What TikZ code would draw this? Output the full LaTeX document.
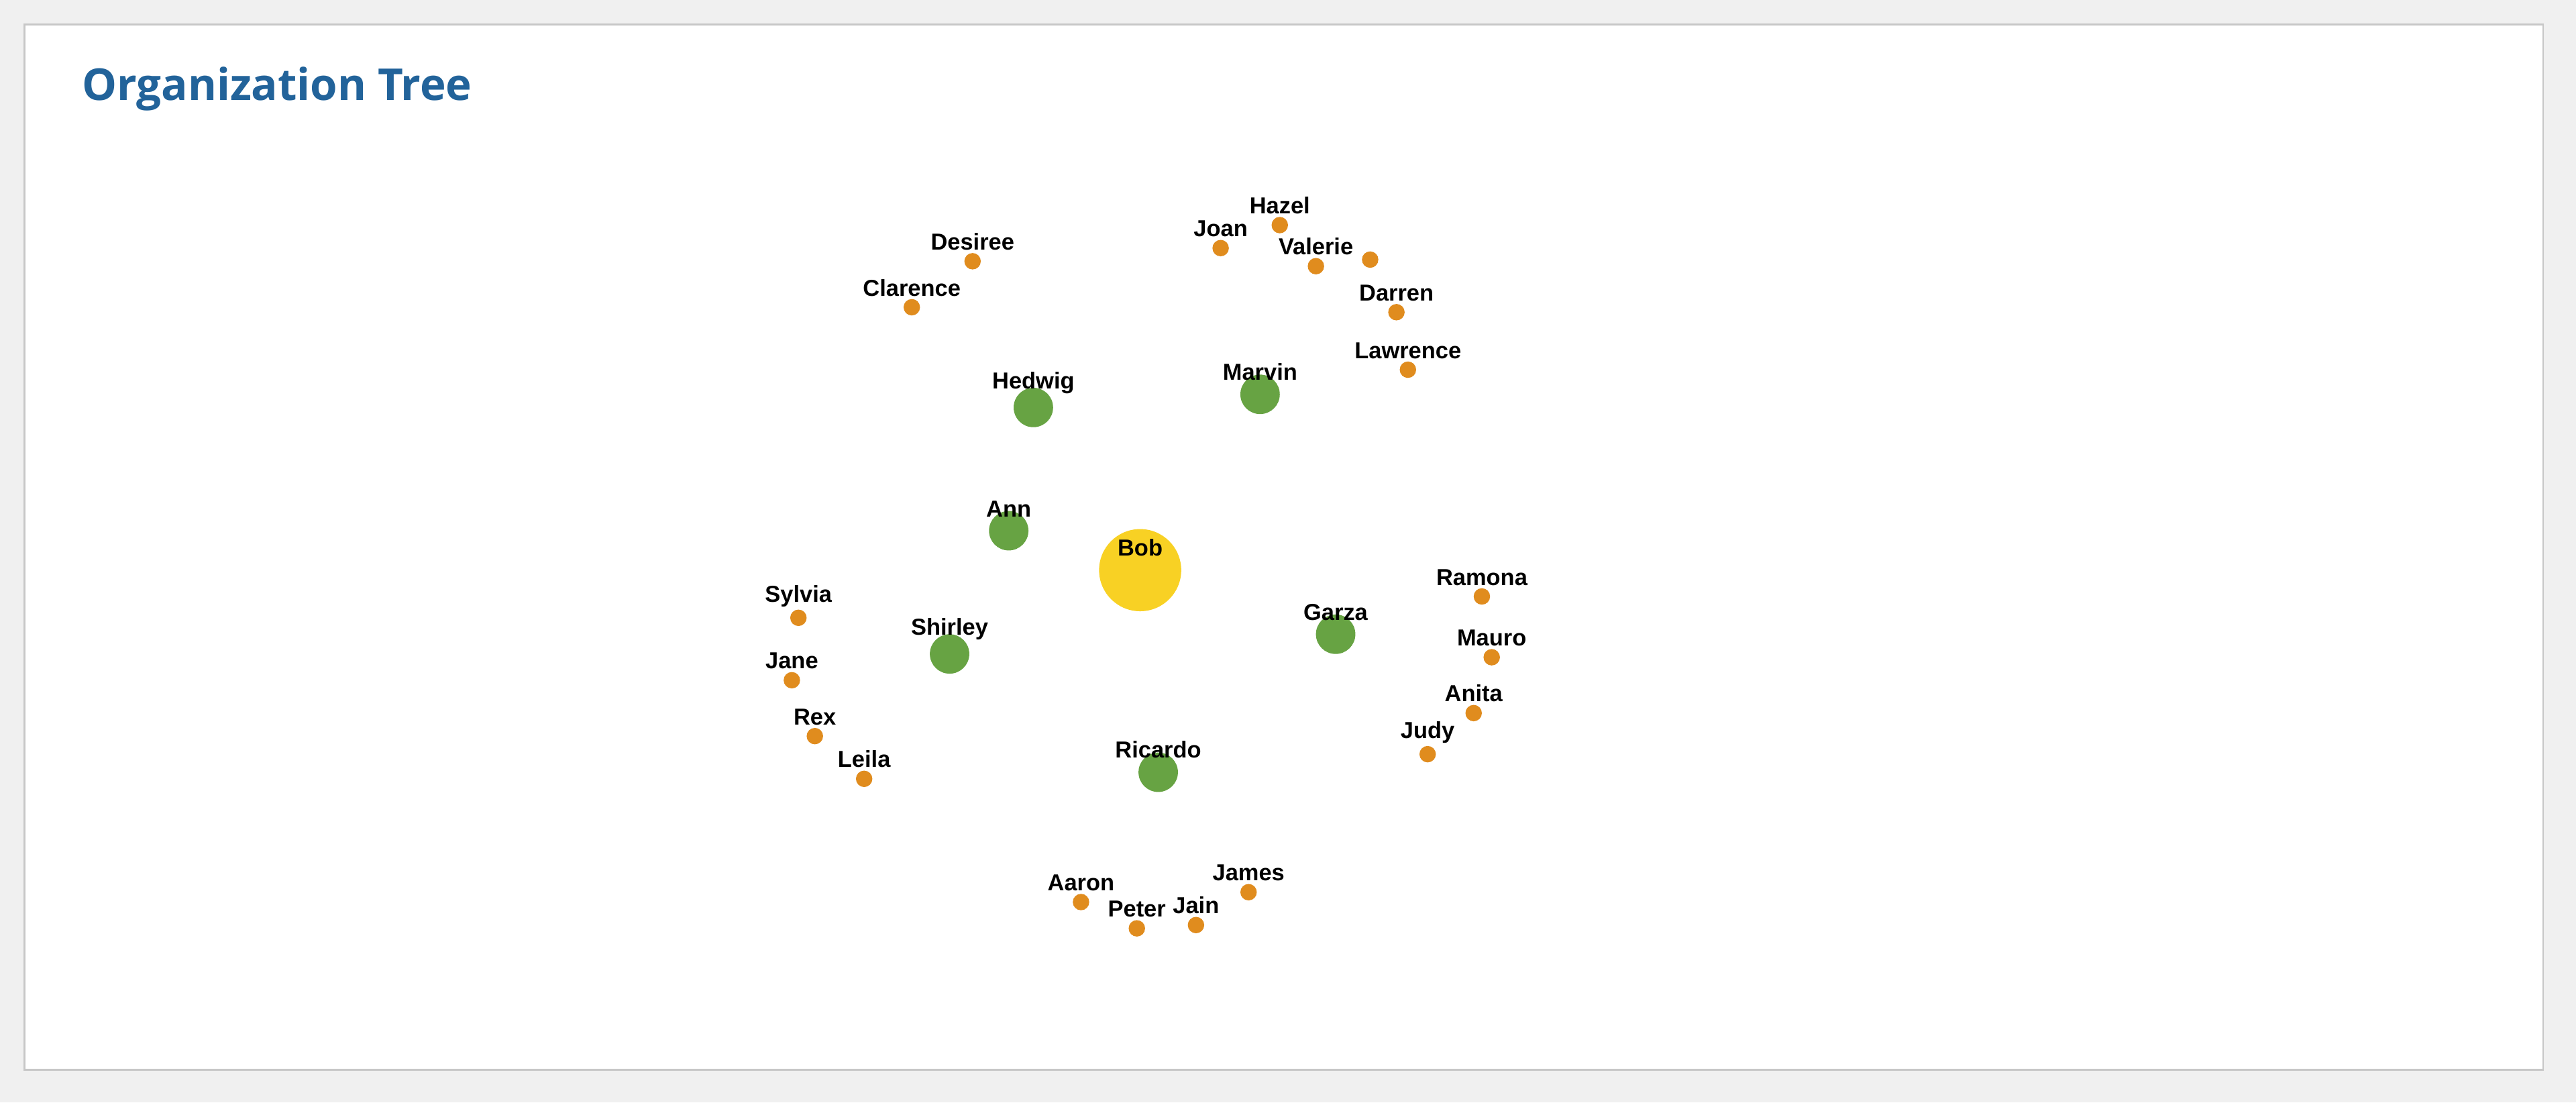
\documentclass[tikz,border=0pt]{standalone}
\usepackage{fontspec}
\setmainfont{Liberation Sans}
\newfontfamily\titlefont{Open Sans}
\usepackage{tikz}
\pgfdeclarelayer{bg}
\pgfsetlayers{bg,main}
\definecolor{bobyellow}{HTML}{F8D124}
\definecolor{mgrgreen}{HTML}{67A343}
\definecolor{leaforange}{HTML}{E08C1E}
\definecolor{titleblue}{HTML}{22639A}
\tikzset{
  root/.style={circle, fill=bobyellow, minimum size=50*0.025cm, inner sep=0pt,
    label={[label distance=-0.425cm, inner sep=0pt, font=\bfseries\fontsize{10}{12}\selectfont]above:#1}},
  mgr/.style={circle, fill=mgrgreen, minimum size=24*0.025cm, inner sep=0pt,
    label={[label distance=-0.1cm, inner sep=0pt, font=\bfseries\fontsize{10}{12}\selectfont]above:#1}},
  leaf/.style={circle, fill=leaforange, minimum size=10*0.025cm, inner sep=0pt,
    label={[label distance=0.03cm, inner sep=0pt, font=\bfseries\fontsize{10}{12}\selectfont]above:#1}},
  link/.style={draw=black!27, line width=0.6pt}
}
\begin{document}
\begin{tikzpicture}[x=0.025cm, y=-0.025cm]
        \fill[black!6] (0,0) rectangle (1568,671);
        \draw[black!22, fill=white, line width=0.8pt] (15,15) rectangle (1548,651);
        \useasboundingbox (0,0) rectangle (1568,671);
        \node (title) [anchor=west, text=titleblue, font=\titlefont\bfseries\fontsize{19}{22}\selectfont] at (45,54) {Organization Tree};
        \node (bob) [root=Bob] at (694,347) {};
        \node (ann) [mgr=Ann] at (614,323) {};
        \node (hedwig) [mgr=Hedwig] at (629,248) {};
        \node (marvin) [mgr=Marvin] at (767,240) {};
        \node (shirley) [mgr=Shirley] at (578,398) {};
        \node (garza) [mgr=Garza] at (813,386) {};
        \node (ricardo) [mgr=Ricardo] at (705,470) {};
        \node (desiree) [leaf=Desiree] at (592,159) {};
        \node (clarence) [leaf=Clarence] at (555,187) {};
        \node (joan) [leaf=Joan] at (743,151) {};
        \node (hazel) [leaf=Hazel] at (779,137) {};
        \node (valerie) [leaf=Valerie] at (801,162) {};
        \node (unnamed) [leaf={}] at (834,158) {};
        \node (darren) [leaf=Darren] at (850,190) {};
        \node (lawrence) [leaf=Lawrence] at (857,225) {};
        \node (ramona) [leaf=Ramona] at (902,363) {};
        \node (mauro) [leaf=Mauro] at (908,400) {};
        \node (anita) [leaf=Anita] at (897,434) {};
        \node (judy) [leaf=Judy] at (869,459) {};
        \node (sylvia) [leaf=Sylvia] at (486,376) {};
        \node (jane) [leaf=Jane] at (482,414) {};
        \node (rex) [leaf=Rex] at (496,448) {};
        \node (leila) [leaf=Leila] at (526,474) {};
        \node (aaron) [leaf=Aaron] at (658,549) {};
        \node (peter) [leaf=Peter] at (692,565) {};
        \node (jain) [leaf=Jain] at (728,563) {};
        \node (james) [leaf=James] at (760,543) {};
        \begin{pgfonlayer}{bg}
                \draw (bob.center) edge [link] (ann.center);
                \draw (bob.center) edge [link] (hedwig.center);
                \draw (bob.center) edge [link] (marvin.center);
                \draw (bob.center) edge [link] (shirley.center);
                \draw (bob.center) edge [link] (garza.center);
                \draw (bob.center) edge [link] (ricardo.center);
                \draw (hedwig.center) edge [link] (desiree);
                \draw (hedwig.center) edge [link] (clarence);
                \draw (marvin.center) edge [link] (joan);
                \draw (marvin.center) edge [link] (hazel);
                \draw (marvin.center) edge [link] (valerie);
                \draw (marvin.center) edge [link] (unnamed);
                \draw (marvin.center) edge [link] (darren);
                \draw (marvin.center) edge [link] (lawrence);
                \draw (garza.center) edge [link] (ramona);
                \draw (garza.center) edge [link] (mauro);
                \draw (garza.center) edge [link] (anita);
                \draw (garza.center) edge [link] (judy);
                \draw (shirley.center) edge [link] (sylvia);
                \draw (shirley.center) edge [link] (jane);
                \draw (shirley.center) edge [link] (rex);
                \draw (shirley.center) edge [link] (leila);
                \draw (ricardo.center) edge [link] (aaron);
                \draw (ricardo.center) edge [link] (peter);
                \draw (ricardo.center) edge [link] (jain);
                \draw (ricardo.center) edge [link] (james);
        \end{pgfonlayer}
\end{tikzpicture}
\end{document}
